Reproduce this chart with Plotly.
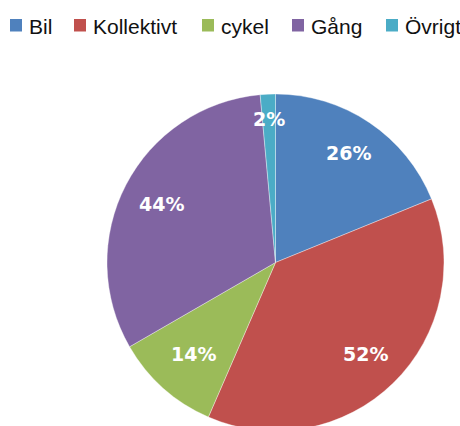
import math
import plotly.graph_objects as go

# Travel mode shares (survey, multiple answers allowed)
modes = ["Bil", "Kollektivt", "cykel", "Gång", "Övrigt"]
shares = [26, 52, 14, 44, 2]
colors = ["#4F81BD", "#C0504D", "#9BBB59", "#8064A2", "#4BACC6"]

# Figure and pie geometry (pixels)
W, H = 460, 432
PIE_LEFT, PIE_RIGHT, PIE_TOP, PIE_BOTTOM = 107, 444, 94, 431
# radial placement of each value label, as a fraction of the radius
label_radius = [0.78, 0.76, 0.73, 0.76, 0.85]

# Legend row (pixels): square left edges, square size, row centre
legend_x = [10, 74, 202, 292, 386]
legend_sq = 12
legend_cy = 25

fig = go.Figure(
    go.Pie(
        labels=modes,
        values=shares,
        sort=False,
        direction="clockwise",
        rotation=0,
        marker=dict(colors=colors, line=dict(color="rgba(255,255,255,0.6)", width=0.6)),
        textinfo="none",
        hoverinfo="label+value",
        showlegend=False,
        domain=dict(x=[PIE_LEFT / W, PIE_RIGHT / W], y=[1 - PIE_BOTTOM / H, 1 - PIE_TOP / H]),
    )
)

# Value labels placed on each slice's bisector
cx = (PIE_LEFT + PIE_RIGHT) / 2
cy = (PIE_TOP + PIE_BOTTOM) / 2
radius = (PIE_RIGHT - PIE_LEFT) / 2
total = sum(shares)
start = 0.0
annotations = []
for v, rf in zip(shares, label_radius):
    mid = (start + v / 2) / total * 2 * math.pi
    start += v
    px = cx + rf * radius * math.sin(mid)
    py = cy - rf * radius * math.cos(mid)
    annotations.append(
        dict(
            x=px / W, y=1 - py / H, xref="paper", yref="paper",
            text=f"{v}%", showarrow=False, xanchor="center", yanchor="middle",
            font=dict(family="DejaVu Sans", size=19, color="white", weight="bold"),
        )
    )

# Legend entries: coloured square + name
shapes = []
for name, col, x0 in zip(modes, colors, legend_x):
    shapes.append(
        dict(
            type="rect", xref="paper", yref="paper",
            x0=x0 / W, x1=(x0 + legend_sq) / W,
            y0=1 - (legend_cy + legend_sq / 2 + 0.5) / H, y1=1 - (legend_cy - legend_sq / 2) / H,
            fillcolor=col, line=dict(width=0),
        )
    )
    annotations.append(
        dict(
            x=(x0 + legend_sq + 5) / W, y=1 - (legend_cy + 1.5) / H, xref="paper", yref="paper",
            text=name, showarrow=False, xanchor="left", yanchor="middle",
            font=dict(family="Liberation Sans", size=21, color="#111111"),
        )
    )

fig.update_layout(
    width=W,
    height=H,
    margin=dict(l=0, r=0, t=0, b=0),
    paper_bgcolor="white",
    plot_bgcolor="white",
    showlegend=False,
    annotations=annotations,
    shapes=shapes,
)

fig.write_html(
    "out.html",
    post_script="document.documentElement.style.overflow='hidden';document.body.style.overflow='hidden';",
)
